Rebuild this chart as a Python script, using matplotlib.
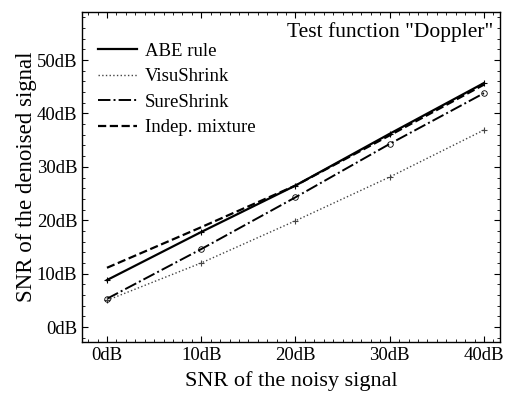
import matplotlib
matplotlib.use("Agg")
import matplotlib.pyplot as plt
from matplotlib.ticker import MultipleLocator, FuncFormatter

snr_in = [0, 10, 20, 30, 40]
abe = [8.8, 17.8, 26.5, 36.2, 45.7]
visu = [5.0, 12.0, 19.9, 28.1, 36.9]
sure = [5.3, 14.6, 24.3, 34.3, 43.8]
indep = [11.1, 18.7, 26.5, 35.9, 45.4]

plt.rcParams["font.family"] = ["Liberation Serif", "DejaVu Serif"]

fig = plt.figure(figsize=(5.08, 3.94), dpi=100)
ax = fig.add_axes([82 / 508, 1 - 342 / 394, 418 / 508, 330 / 394])

# lines (legend entries) and markers drawn separately
ax.plot(snr_in, abe, "-", color="black", lw=1.6, label="ABE rule")
ax.plot(snr_in, visu, ":", color="#444444", lw=1.0, label="VisuShrink")
ax.plot(snr_in, sure, "-.", color="black", lw=1.4, label="SureShrink")
ax.plot(snr_in, indep, "--", color="black", lw=1.6, label="Indep. mixture")
ax.plot(snr_in, abe, ls="none", color="black", marker="+", ms=5, mew=0.8)
ax.plot(snr_in, visu, ls="none", color="#444444", marker="+", ms=5, mew=0.8)
ax.plot(snr_in, sure, ls="none", color="black", marker="o", ms=4, mfc="none", mew=0.6)

ax.set_xlim(-2.65, 41.7)
ax.set_ylim(-2.8, 59.0)
ax.xaxis.set_major_locator(MultipleLocator(10))
ax.yaxis.set_major_locator(MultipleLocator(10))
ax.xaxis.set_minor_locator(MultipleLocator(1))
ax.yaxis.set_minor_locator(MultipleLocator(2))
fmt = FuncFormatter(lambda v, p: f"{v:.0f}dB")
ax.xaxis.set_major_formatter(fmt)
ax.yaxis.set_major_formatter(fmt)
ax.tick_params(which="both", direction="in", top=True, right=True, labelsize=13.5)
ax.tick_params(which="major", length=4, width=0.8)
ax.tick_params(which="minor", length=2, width=0.6)
for s in ax.spines.values():
    s.set_linewidth(1.0)

ax.set_xlabel("SNR of the noisy signal", fontsize=16, labelpad=5)
ax.set_ylabel("SNR of the denoised signal", fontsize=16.5, labelpad=0)
ax.text(0.985, 0.97, 'Test function "Doppler"', transform=ax.transAxes,
        ha="right", va="top", fontsize=15.5)
ax.legend(loc="upper left", frameon=False, fontsize=13.5, handlelength=2.1,
          handletextpad=0.4, labelspacing=0.45, borderaxespad=0.0,
          bbox_to_anchor=(0.02, 0.93))

fig.savefig("out.png", dpi=100)
